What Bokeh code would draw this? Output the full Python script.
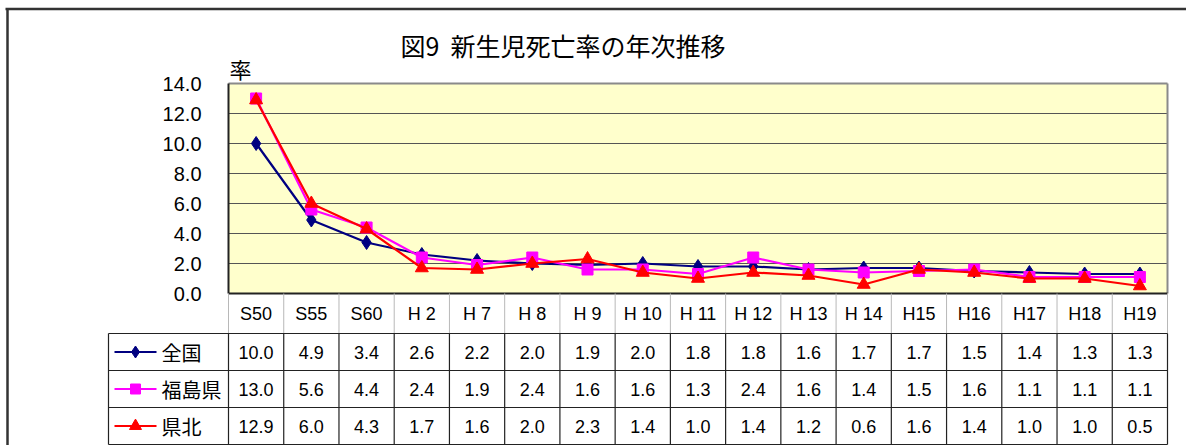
from bokeh.plotting import figure
from bokeh.models import Range1d
from bokeh.core.properties import value
from bokeh.embed import file_html
from bokeh.resources import INLINE

# ---------------- data ----------------
categories = ["S50", "S55", "S60", "H 2", "H 7", "H 8", "H 9", "H 10", "H 11",
              "H 12", "H 13", "H 14", "H15", "H16", "H17", "H18", "H19"]
national = [10.0, 4.9, 3.4, 2.6, 2.2, 2.0, 1.9, 2.0, 1.8, 1.8, 1.6, 1.7, 1.7, 1.5, 1.4, 1.3, 1.3]
fukushima = [13.0, 5.6, 4.4, 2.4, 1.9, 2.4, 1.6, 1.6, 1.3, 2.4, 1.6, 1.4, 1.5, 1.6, 1.1, 1.1, 1.1]
kenpoku = [12.9, 6.0, 4.3, 1.7, 1.6, 2.0, 2.3, 1.4, 1.0, 1.4, 1.2, 0.6, 1.6, 1.4, 1.0, 1.0, 0.5]
series_names = ["全国", "福島県", "県北"]
y_ticks = [0, 2, 4, 6, 8, 10, 12, 14]
title_text = "図9\u00a0\u00a0新生児死亡率の年次推移"
y_label_text = "率"

# ---------------- styles / layout (pixels) ----------------
colors = ["#000080", "#FF00FF", "#FF0000"]
markers = ["diamond", "square", "triangle"]
msizes = [14, 11, 13]
JP = "Noto Sans CJK JP"
LAT = "Liberation Sans"

W, H = 1186, 445
PLOT_L, PLOT_R, PLOT_T, PLOT_B = 228, 1167, 83, 293
LEG_L = 108
HEADER_H, ROW_H = 40, 37

n = len(categories)
xs = list(range(n))
series = [national, fukushima, kenpoku]
y_max = max(y_ticks)
PX = (PLOT_R - PLOT_L) / n
PY = (PLOT_B - PLOT_T) / y_max


def X(px):
    return -0.5 + (px - PLOT_L) / PX


def Y(py):
    return (PLOT_B - py) / PY


p = figure(width=W, height=H, x_range=Range1d(X(0), X(W)), y_range=Range1d(Y(H), Y(0)),
           x_axis_location=None, y_axis_location=None, output_backend="svg",
           toolbar_location=None, min_border=0)
p.outline_line_color = None
p.background_fill_color = "white"
p.border_fill_color = "white"
p.xgrid.visible = False
p.ygrid.visible = False

x_lo, x_hi = -0.5, n - 0.5

# outer chart-area border (top and left visible)
p.segment([X(5)], [Y(8.5)], [X(W + 5)], [Y(8.5)], line_color="#333333", line_width=2.5)
p.segment([X(7)], [Y(8.5)], [X(7)], [Y(H + 5)], line_color="#333333", line_width=2.5)

# plot area
p.quad(left=[x_lo], right=[x_hi], bottom=[0], top=[y_max], fill_color="#FFFFCC", line_color=None)
grid_ticks = [t for t in y_ticks if 0 < t < y_max]
p.segment([x_lo] * len(grid_ticks), grid_ticks, [x_hi] * len(grid_ticks), grid_ticks,
          line_color="#555555", line_width=1)
p.segment([x_lo, x_hi], [y_max, y_max], [x_hi, x_hi], [y_max, 0], line_color="#8a8a8a", line_width=2)
p.segment([x_lo, x_lo], [0, 0], [x_lo, x_hi], [y_max, 0], line_color="#222222", line_width=2)

# y tick labels
p.text([X(201)] * len(y_ticks), y_ticks, text=["%.1f" % t for t in y_ticks],
       text_font=value(LAT), text_font_size="20px", text_align="right",
       text_baseline="middle", text_color="black")

# titles
p.text([X(400)], [Y(44)], text=[title_text], text_font=value(JP), text_font_size="25px",
       text_align="left", text_baseline="middle", text_color="black")
p.text([X(229)], [Y(67)], text=[y_label_text], text_font=value(JP), text_font_size="22px",
       text_align="left", text_baseline="middle", text_color="black")

# series
for vals, c, m, s in zip(series, colors, markers, msizes):
    p.line(xs, vals, line_color=c, line_width=2.2)
    p.scatter(xs, vals, marker=m, size=s, fill_color=c, line_color=c)

# ---------------- data table ----------------
row_edges_px = [PLOT_B, PLOT_B + HEADER_H] + [PLOT_B + HEADER_H + ROW_H * (i + 1) for i in range(len(series))]
row_edges = [Y(v) for v in row_edges_px]
header_top, header_bot, table_bot = row_edges[0], row_edges[1], row_edges[-1]
leg_lo = X(LEG_L)

# header separators (light)
p.segment([k - 0.5 for k in range(n + 1)], [header_bot] * (n + 1),
          [k - 0.5 for k in range(n + 1)], [header_top] * (n + 1),
          line_color="#b8b8b8", line_width=1)
# body vertical lines
vx = [k - 0.5 for k in range(n + 1)] + [leg_lo]
p.segment(vx, [table_bot] * len(vx), vx, [header_bot] * len(vx), line_color="#222222", line_width=1.2)
# body horizontal lines
hy = row_edges[1:]
p.segment([leg_lo] * len(hy), hy, [x_hi] * len(hy), hy, line_color="#222222", line_width=1.2)

# header labels
p.text(xs, [(header_top + header_bot) / 2] * n, text=categories, text_font=value(LAT),
       text_font_size="18px", text_align="center", text_baseline="middle", text_color="black")

for i, (vals, c, m, name) in enumerate(zip(series, colors, markers, series_names)):
    yc = (row_edges[i + 1] + row_edges[i + 2]) / 2
    p.text(xs, [yc] * n, text=["%.1f" % v for v in vals], text_font=value(LAT),
           text_font_size="18px", text_align="center", text_baseline="middle", text_color="black")
    p.segment([X(114)], [yc], [X(156)], [yc], line_color=c, line_width=2)
    p.scatter([X(135)], [yc], marker=m, size=(10 if m == "square" else 12),
              fill_color=c, line_color=c)
    p.text([X(161)], [yc], text=[name], text_font=value(JP), text_font_size="20px",
           text_align="left", text_baseline="middle", text_color="black")

open("out.html", "w").write(file_html(p, INLINE))
